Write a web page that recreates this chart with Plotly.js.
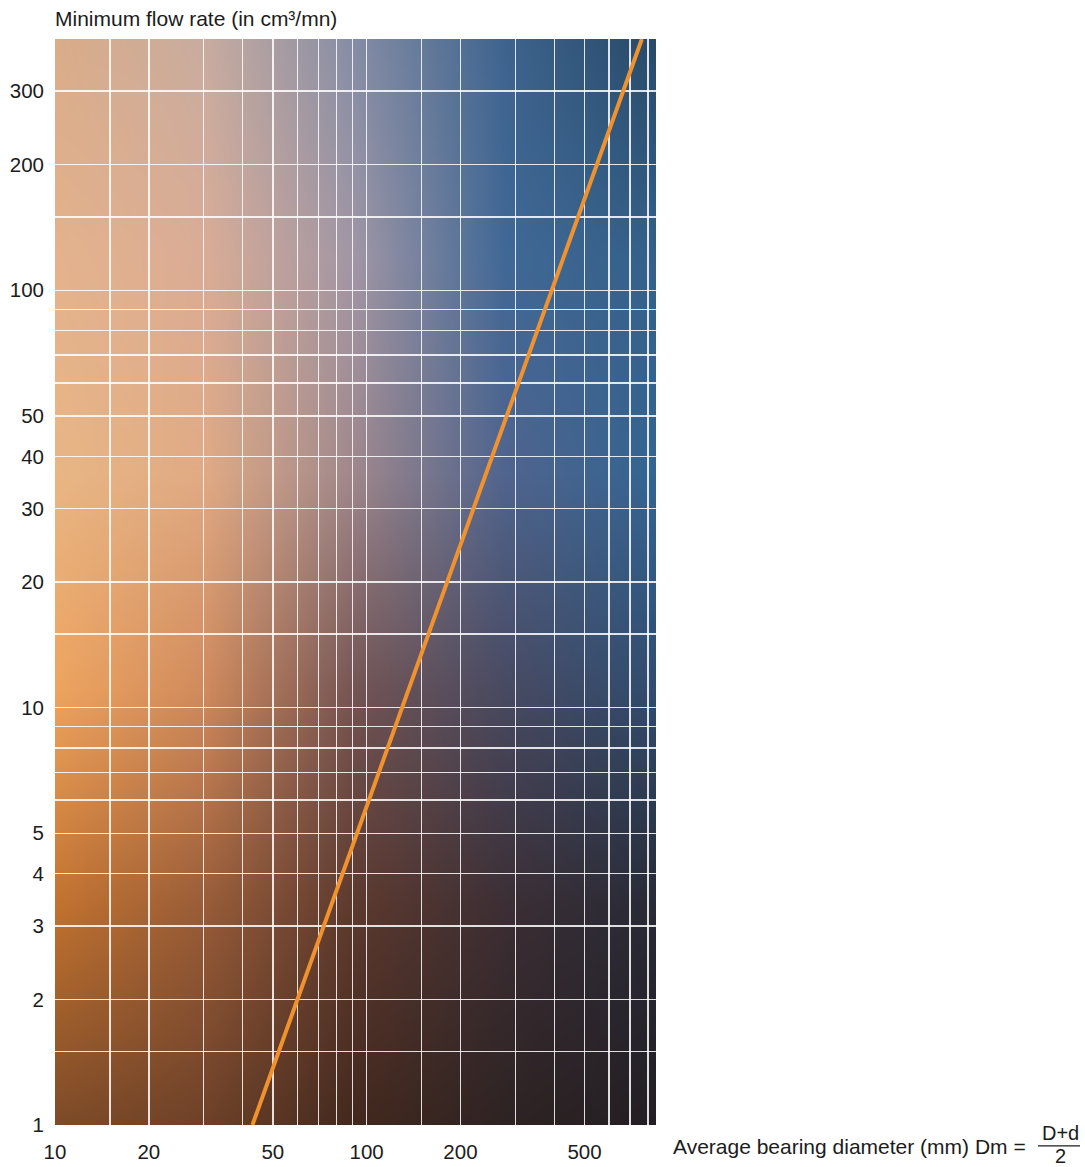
<!DOCTYPE html>
<html>
<head>
<meta charset="utf-8">
<script src="https://cdn.plot.ly/plotly-3.0.1.min.js"></script>
<style>
  html, body { margin: 0; padding: 0; background: #ffffff; }
  #chart { width: 1085px; height: 1167px; }
</style>
</head>
<body>
<div id="chart"></div>
<script>
// ---------------- data ----------------
const bearingDiameter = [43, 130, 392, 764];   // mm
const minFlowRate     = [1,  10,  100, 400];   // cm3/mn

const xGridValues  = [10, 15, 20, 30, 40, 50, 60, 70, 80, 90, 100, 150, 200, 300, 400, 500, 600, 700, 800];
const xTickLabels  = [10, 20, 50, 100, 200, 500];
const yGridValues  = [1, 1.5, 2, 3, 4, 5, 6, 7, 8, 9, 10, 15, 20, 30, 40, 50, 60, 70, 80, 90, 100, 150, 200, 300];
const yTickLabels  = [1, 2, 3, 4, 5, 10, 20, 30, 40, 50, 100, 200, 300];

const xRangeMax = 848;
const yRangeMax = 400;

const yTitle = 'Minimum flow rate (in cm³/mn)';
const xTitle = 'Average bearing diameter (mm) Dm = ';
const fracNum = 'D+d';
const fracDen = '2';

// ---------------- background gradient (style) ----------------
const bgColors = [
  [[218,172,136],[200,172,160],[132,140,165],[62,100,142],[40,74,104]],
  [[228,178,140],[218,172,150],[160,150,165],[64,104,150],[52,96,136]],
  [[232,182,132],[224,170,132],[158,135,140],[80,100,142],[52,100,145]],
  [[238,164,95],[208,138,92],[115,84,84],[72,74,98],[48,76,110]],
  [[194,114,46],[152,92,56],[92,57,46],[60,46,52],[40,42,54]],
  [[125,75,40],[110,65,40],[66,40,30],[46,35,35],[35,30,35]]
];
function makeBackground() {
  const W = 300, H = 540;
  const c = document.createElement('canvas');
  c.width = W; c.height = H;
  const ctx = c.getContext('2d');
  const img = ctx.createImageData(W, H);
  const rows = bgColors.length - 1, cols = bgColors[0].length - 1;
  for (let j = 0; j < H; j++) {
    const fy = j / (H - 1) * rows;
    const r0 = Math.min(Math.floor(fy), rows - 1), ty = fy - r0;
    for (let i = 0; i < W; i++) {
      const fx = i / (W - 1) * cols;
      const c0 = Math.min(Math.floor(fx), cols - 1), tx = fx - c0;
      const idx = (j * W + i) * 4;
      for (let k = 0; k < 3; k++) {
        const a = bgColors[r0][c0][k] * (1 - tx) + bgColors[r0][c0 + 1][k] * tx;
        const b = bgColors[r0 + 1][c0][k] * (1 - tx) + bgColors[r0 + 1][c0 + 1][k] * tx;
        img.data[idx + k] = a * (1 - ty) + b * ty;
      }
      img.data[idx + 3] = 255;
    }
  }
  ctx.putImageData(img, 0, 0);
  return c.toDataURL('image/png');
}

// ---------------- chart ----------------
const font = { family: 'Liberation Sans, Arial, sans-serif', size: 21, color: '#1c1c1c' };
const tickFont = { family: 'Liberation Sans, Arial, sans-serif', size: 20.5, color: '#1c1c1c' };
const fracFont = { family: 'Liberation Sans, Arial, sans-serif', size: 20, color: '#1c1c1c' };
const gridColor = 'rgba(255,255,255,0.85)';

const trace = {
  type: 'scatter',
  mode: 'lines',
  x: bearingDiameter,
  y: minFlowRate,
  line: { color: '#F0922E', width: 4 },
  hoverinfo: 'x+y',
  cliponaxis: true
};

const layout = {
  width: 1085,
  height: 1167,
  margin: { l: 55, r: 429, t: 39, b: 42 },
  paper_bgcolor: '#ffffff',
  plot_bgcolor: 'rgba(0,0,0,0)',
  font: font,
  showlegend: false,
  xaxis: {
    type: 'log',
    range: [1, Math.log10(xRangeMax)],
    tickmode: 'array',
    tickvals: xGridValues,
    ticktext: xGridValues.map(v => xTickLabels.includes(v) ? String(v) : ''),
    showgrid: true,
    gridcolor: gridColor,
    gridwidth: 1.5,
    zeroline: false,
    showline: false,
    ticks: '',
    ticklabelstandoff: 12,
    tickfont: tickFont,
    fixedrange: true
  },
  yaxis: {
    type: 'log',
    range: [0, Math.log10(yRangeMax)],
    tickmode: 'array',
    tickvals: yGridValues,
    ticktext: yGridValues.map(v => yTickLabels.includes(v) ? String(v) : ''),
    showgrid: true,
    gridcolor: gridColor,
    gridwidth: 1.5,
    zeroline: false,
    showline: false,
    ticks: '',
    ticklabelstandoff: 10,
    tickfont: tickFont,
    fixedrange: true
  },
  images: [{
    source: makeBackground(),
    xref: 'paper', yref: 'paper',
    x: 0, y: 1, sizex: 1, sizey: 1,
    xanchor: 'left', yanchor: 'top',
    sizing: 'stretch',
    layer: 'below'
  }],
  annotations: [
    { text: yTitle, xref: 'paper', yref: 'paper', x: 0, y: 1, xanchor: 'left', yanchor: 'bottom',
      yshift: 7, xshift: -2, showarrow: false, font: font },
    { text: xTitle, xref: 'paper', yref: 'paper', x: 1, y: 0, xanchor: 'left', yanchor: 'middle',
      xshift: 15, yshift: -21, showarrow: false, font: font },
    { text: fracNum, xref: 'paper', yref: 'paper', x: 1, y: 0, xanchor: 'center', yanchor: 'middle',
      xshift: 404, yshift: -8, showarrow: false, font: fracFont },
    { text: fracDen, xref: 'paper', yref: 'paper', x: 1, y: 0, xanchor: 'center', yanchor: 'middle',
      xshift: 404, yshift: -31, showarrow: false, font: fracFont }
  ],
  shapes: [
    { type: 'line', xref: 'paper', yref: 'paper', x0: 1.6356, x1: 1.7055, y0: -0.0193, y1: -0.0193,
      line: { color: '#1c1c1c', width: 1.2 } }
  ]
};

Plotly.newPlot('chart', [trace], layout, { displayModeBar: false, staticPlot: true });
</script>
</body>
</html>
